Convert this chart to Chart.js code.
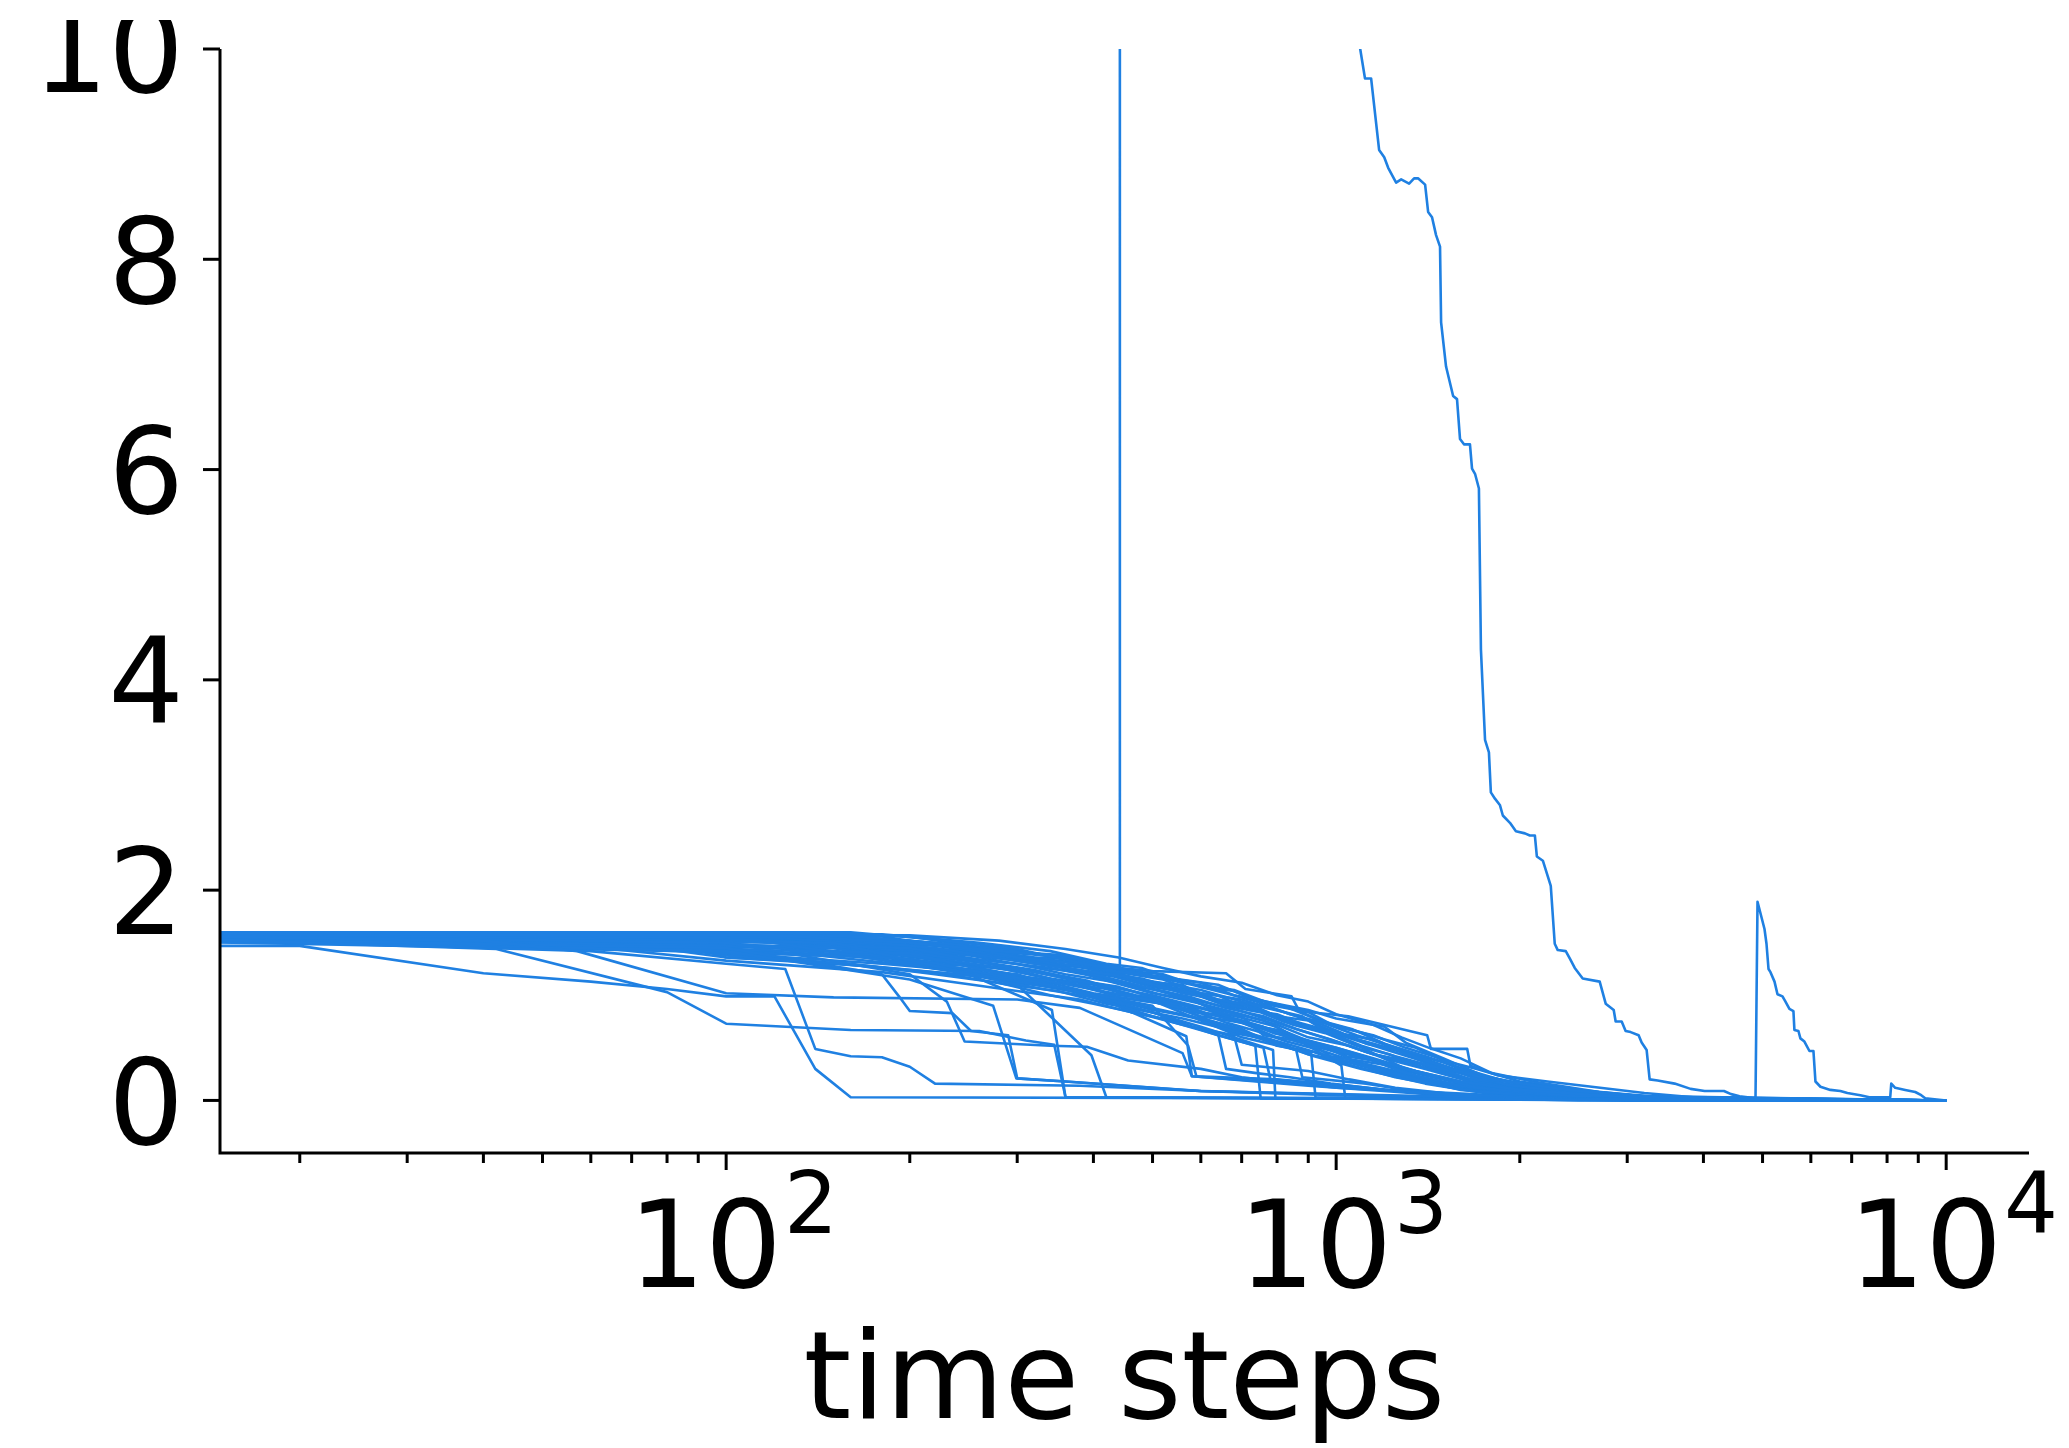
<!DOCTYPE html>
<html>
<head>
<meta charset="utf-8">
<script src="https://cdn.jsdelivr.net/npm/chart.js@4.4.1/dist/chart.umd.min.js"></script>
<style>
  html, body { margin: 0; padding: 0; background: #fff; }
  canvas { display: block; }
</style>
</head>
<body>
<canvas id="lossChart" width="2069" height="1448"></canvas>
<script>
// 학습 곡선: [time step, loss] 쌍. 한 줄 = 한 번의 실행
var runDiverged = [[10,1.57],[100,1.55],[200,1.46],[300,1.38],[400,1.28],[441,1.25],[442,40],[1095,10.0],[1115,9.72],[1141,9.72],[1176,9.04],[1199,8.97],[1217,8.87],[1254,8.73],[1278,8.76],[1317,8.72],[1342,8.77],[1362,8.77],[1399,8.71],[1415,8.45],[1436,8.40],[1458,8.23],[1480,8.12],[1486,7.40],[1514,6.98],[1555,6.70],[1578,6.67],[1596,6.29],[1620,6.24],[1657,6.24],[1670,6.01],[1689,5.96],[1714,5.82],[1727,4.29],[1754,3.43],[1780,3.31],[1793,2.93],[1821,2.87],[1855,2.81],[1876,2.71],[1927,2.64],[1971,2.56],[2039,2.54],[2077,2.52],[2117,2.52],[2133,2.32],[2182,2.28],[2223,2.13],[2248,2.04],[2282,1.49],[2308,1.43],[2379,1.42],[2415,1.35],[2461,1.26],[2536,1.16],[2704,1.13],[2766,0.92],[2851,0.86],[2872,0.75],[2938,0.75],[2982,0.66],[3039,0.65],[3132,0.62],[3168,0.55],[3228,0.48],[3265,0.20],[3365,0.19],[3588,0.16],[3811,0.11],[4018,0.09],[4322,0.09],[4440,0.06],[4585,0.04],[4869,0.02],[4906,1.89],[5037,1.63],[5075,1.49],[5114,1.25],[5152,1.22],[5231,1.13],[5290,1.01],[5391,0.99],[5452,0.94],[5534,0.87],[5618,0.85],[5639,0.67],[5725,0.66],[5768,0.59],[5856,0.56],[5968,0.47],[6059,0.47],[6105,0.18],[6221,0.13],[6458,0.10],[6707,0.09],[6887,0.07],[7232,0.05],[7482,0.03],[8096,0.03],[8128,0.16],[8250,0.12],[8568,0.10],[8898,0.08],[9101,0.05],[9239,0.02],[10000,0.0]];

// 일찍 떨어지는 실행들
var runE01 = [[10,1.47],[20,1.47],[40,1.21],[60,1.13],[80,1.06],[100,0.99],[120,0.99],[140,0.30],[160,0.03],[1000,0.02],[3000,0.0],[10000,0]];
var runE02 = [[10,1.56],[42,1.44],[80,1.03],[100,0.73],[160,0.67],[260,0.66],[310,0.57],[345,0.53],[360,0.03],[2000,0.01],[10000,0]];
var runE03 = [[10,1.56],[60,1.42],[100,1.30],[125,1.25],[140,0.49],[160,0.42],[180,0.41],[200,0.32],[220,0.16],[380,0.14],[600,0.09],[1000,0.06],[2000,0.02],[4000,0],[10000,0]];
var runE04 = [[10,1.57],[40,1.52],[57,1.42],[100,1.02],[150,0.98],[300,0.96],[380,0.88],[560,0.45],[580,0.23],[900,0.15],[1500,0.06],[2500,0.01],[10000,0]];
var runE05 = [[10,1.55],[100,1.45],[180,1.20],[192,0.99],[200,0.85],[235,0.83],[252,0.66],[290,0.62],[300,0.21],[360,0.18],[600,0.09],[1500,0.03],[3000,0],[10000,0]];
var runE06 = [[10,1.58],[100,1.50],[200,1.20],[230,0.94],[246,0.56],[340,0.52],[390,0.51],[456,0.38],[600,0.30],[700,0.22],[1000,0.12],[2000,0.03],[3500,0],[10000,0]];
var runE07 = [[10,1.54],[100,1.42],[200,1.15],[274,0.90],[299,0.21],[360,0.18],[595,0.09],[1000,0.05],[2500,0],[10000,0]];
var runE08 = [[10,1.57],[120,1.50],[250,1.20],[342,0.86],[360,0.03],[3000,0.01],[10000,0]];
var runE09 = [[10,1.60],[150,1.50],[300,1.10],[397,0.43],[420,0.03],[3000,0.01],[10000,0]];
var runE10 = [[10,1.56],[200,1.40],[400,1.00],[568,0.61],[580,0.23],[900,0.14],[1500,0.05],[3000,0],[10000,0]];
var runE11 = [[10,1.59],[200,1.35],[500,0.90],[572,0.52],[590,0.23],[800,0.20],[1200,0.10],[2500,0.01],[10000,0]];
var runE12 = [[10,1.55],[100,1.50],[300,1.20],[500,0.80],[737,0.52],[752,0.02],[10000,0]];
var runE13 = [[10,1.57],[150,1.45],[400,1.00],[600,0.70],[788,0.48],[795,0.02],[10000,0]];
var runE14 = [[10,1.52],[200,1.38],[500,0.95],[700,0.60],[910,0.45],[925,0.03],[10000,0]];
var runE15 = [[10,1.58],[200,1.45],[500,1.00],[800,0.70],[1020,0.33],[1035,0.02],[10000,0]];

// 나머지 실행들 (천천히 감소)
var runB01 = [[10,1.60],[100,1.60],[160,1.60],[220,1.53],[300,1.44],[400,1.28],[500,1.23],[660,1.21],[710,1.06],[845,0.99],[870,0.85],[1047,0.80],[1410,0.62],[1430,0.49],[1640,0.49],[1660,0.33],[1840,0.24],[2220,0.18],[3200,0.07],[4200,0.01],[10000,0]];
var runB02 = [[10,1.58],[120,1.57],[200,1.50],[280,1.42],[360,1.38],[420,1.24],[600,1.12],[680,1.00],[900,0.86],[1000,0.78],[1200,0.70],[1300,0.55],[1500,0.40],[1800,0.20],[2400,0.10],[3500,0.02],[10000,0]];
var runB03 = [[10,1.56],[140,1.55],[220,1.45],[320,1.30],[450,1.18],[560,1.02],[700,0.92],[820,0.75],[1000,0.62],[1150,0.45],[1300,0.30],[1600,0.18],[2000,0.10],[3000,0.03],[10000,0]];
var runB04 = [[10,1.54],[60,1.50],[100,1.40],[180,1.30],[260,1.22],[340,1.12],[400,1.02],[520,0.92],[640,0.80],[760,0.68],[900,0.55],[1100,0.42],[1350,0.28],[1700,0.12],[2500,0.04],[10000,0]];
var runB05 = [[10,1.59],[160,1.56],[240,1.48],[300,1.36],[380,1.30],[480,1.15],[600,1.05],[740,0.90],[880,0.80],[960,0.66],[1150,0.58],[1300,0.44],[1550,0.30],[1900,0.15],[2600,0.05],[4000,0],[10000,0]];
var runB06 = [[10,1.53],[80,1.45],[100,1.38],[140,1.32],[200,1.24],[260,1.18],[330,1.06],[420,0.96],[500,0.88],[620,0.76],[720,0.64],[850,0.52],[1000,0.40],[1250,0.25],[1600,0.10],[2200,0.03],[10000,0]];
var runB07 = [[10,1.57],[120,1.55],[200,1.47],[250,1.40],[320,1.34],[400,1.20],[470,1.10],[560,0.98],[640,0.86],[760,0.76],[860,0.60],[1000,0.50],[1200,0.36],[1450,0.22],[1900,0.08],[2800,0.02],[10000,0]];
var runB08 = [[10,1.55],[70,1.48],[100,1.36],[170,1.28],[240,1.20],[320,1.12],[380,1.04],[460,0.88],[560,0.78],[660,0.68],[780,0.56],[920,0.42],[1100,0.30],[1400,0.16],[1800,0.06],[2600,0.01],[10000,0]];
var runB09 = [[10,1.58],[140,1.57],[200,1.52],[300,1.40],[380,1.35],[440,1.22],[520,1.15],[600,1.02],[700,0.96],[820,0.84],[950,0.72],[1080,0.58],[1250,0.48],[1450,0.36],[1700,0.20],[2100,0.12],[2800,0.04],[10000,0]];
var runB10 = [[10,1.52],[60,1.46],[100,1.33],[180,1.22],[240,1.12],[300,1.04],[380,0.96],[460,0.84],[540,0.76],[640,0.62],[760,0.50],[780,0.20],[1050,0.14],[1300,0.08],[1700,0.03],[2400,0.01],[10000,0]];
var runB11 = [[10,1.56],[100,1.54],[160,1.48],[230,1.36],[300,1.26],[360,1.16],[440,1.08],[540,0.92],[620,0.86],[720,0.72],[820,0.66],[960,0.50],[1120,0.40],[1300,0.26],[1600,0.14],[2000,0.06],[3000,0.01],[10000,0]];
var runB12 = [[10,1.59],[180,1.58],[260,1.50],[340,1.42],[420,1.30],[480,1.26],[560,1.12],[680,1.05],[780,0.92],[900,0.84],[1000,0.70],[1150,0.62],[1300,0.50],[1480,0.40],[1620,0.28],[1900,0.18],[2400,0.10],[3200,0.03],[10000,0]];
var runB13 = [[10,1.55],[120,1.52],[180,1.45],[220,1.35],[300,1.24],[360,1.12],[420,1.06],[500,0.94],[580,0.84],[700,0.80],[760,0.62],[900,0.55],[980,0.42],[1200,0.34],[1400,0.20],[1800,0.10],[2500,0.02],[10000,0]];
var runB14 = [[10,1.57],[160,1.55],[220,1.48],[280,1.38],[350,1.28],[420,1.14],[500,1.02],[580,0.96],[660,0.80],[760,0.70],[860,0.56],[1000,0.46],[1100,0.34],[1300,0.24],[1600,0.12],[2200,0.04],[10000,0]];
var runB15 = [[10,1.54],[100,1.53],[150,1.46],[210,1.38],[270,1.30],[330,1.22],[390,1.14],[460,1.00],[540,0.90],[620,0.76],[700,0.68],[800,0.52],[920,0.46],[1050,0.34],[1250,0.22],[1550,0.12],[2000,0.04],[10000,0]];
var runB16 = [[10,1.60],[120,1.59],[200,1.56],[260,1.46],[320,1.40],[400,1.32],[460,1.22],[540,1.16],[640,1.10],[720,0.98],[820,0.90],[940,0.76],[1060,0.68],[1200,0.54],[1360,0.44],[1500,0.30],[1800,0.20],[2300,0.12],[3000,0.05],[4000,0],[10000,0]];
var runB17 = [[10,1.53],[90,1.44],[100,1.36],[160,1.30],[220,1.20],[280,1.12],[340,1.00],[400,0.92],[480,0.82],[560,0.72],[640,0.64],[660,0.30],[740,0.26],[840,0.22],[980,0.16],[1200,0.10],[1500,0.05],[2000,0.02],[10000,0]];
var runB18 = [[10,1.58],[140,1.56],[200,1.50],[260,1.42],[330,1.32],[400,1.26],[460,1.16],[560,1.08],[640,0.96],[740,0.88],[840,0.74],[960,0.66],[1100,0.52],[1250,0.42],[1450,0.32],[1700,0.18],[2100,0.08],[3000,0.02],[10000,0]];
var runB19 = [[10,1.56],[100,1.55],[180,1.46],[240,1.36],[300,1.30],[360,1.20],[440,1.12],[520,1.00],[600,0.92],[700,0.82],[800,0.72],[900,0.60],[1050,0.52],[1200,0.40],[1400,0.30],[1700,0.16],[2200,0.06],[3000,0.01],[10000,0]];
var runB20 = [[10,1.55],[140,1.53],[200,1.44],[260,1.34],[340,1.26],[420,1.16],[500,1.06],[580,0.98],[660,0.88],[760,0.80],[860,0.68],[980,0.58],[1120,0.46],[1300,0.36],[1500,0.26],[1800,0.14],[2400,0.05],[10000,0]];
var runB21 = [[10,1.59],[200,1.57],[280,1.52],[360,1.44],[440,1.36],[520,1.26],[600,1.18],[700,1.12],[800,1.00],[900,0.94],[1000,0.82],[1150,0.72],[1280,0.60],[1420,0.50],[1600,0.40],[1800,0.26],[2100,0.18],[2700,0.08],[3600,0.02],[10000,0]];
var runB22 = [[10,1.57],[100,1.56],[160,1.50],[220,1.42],[290,1.34],[360,1.26],[420,1.20],[500,1.10],[580,1.02],[660,0.92],[760,0.84],[880,0.72],[1000,0.64],[1150,0.54],[1350,0.42],[1600,0.28],[2000,0.16],[2600,0.06],[3500,0.01],[10000,0]];
var runB23 = [[10,1.56],[120,1.54],[190,1.44],[250,1.38],[310,1.28],[380,1.22],[450,1.10],[520,1.04],[600,0.94],[690,0.86],[780,0.76],[880,0.66],[1000,0.56],[1150,0.44],[1350,0.36],[1600,0.22],[2000,0.10],[2800,0.03],[10000,0]];
var runB24 = [[10,1.54],[110,1.52],[170,1.42],[230,1.32],[290,1.24],[350,1.14],[420,1.02],[500,0.96],[580,0.86],[660,0.74],[740,0.66],[830,0.56],[940,0.48],[1060,0.38],[1250,0.28],[1500,0.16],[1900,0.07],[2600,0.01],[10000,0]];
var runB25 = [[10,1.58],[150,1.57],[220,1.50],[290,1.44],[360,1.34],[430,1.28],[500,1.18],[580,1.10],[660,1.02],[740,0.94],[840,0.82],[950,0.74],[1080,0.62],[1220,0.52],[1400,0.42],[1620,0.30],[1900,0.18],[2400,0.09],[3200,0.02],[10000,0]];
var runB26 = [[10,1.55],[100,1.54],[150,1.48],[200,1.40],[260,1.32],[320,1.24],[380,1.14],[450,1.06],[520,0.96],[600,0.88],[680,0.78],[780,0.68],[880,0.58],[1000,0.50],[1150,0.40],[1350,0.28],[1600,0.18],[2000,0.08],[2800,0.02],[10000,0]];
var runB27 = [[10,1.57],[130,1.55],[200,1.46],[270,1.40],[340,1.30],[410,1.24],[480,1.12],[560,1.06],[640,0.94],[720,0.90],[820,0.78],[920,0.70],[1040,0.60],[1180,0.50],[1340,0.40],[1550,0.28],[1850,0.16],[2300,0.08],[3000,0.02],[10000,0]];
var runB28 = [[10,1.53],[90,1.47],[140,1.38],[190,1.30],[250,1.22],[310,1.12],[370,1.04],[440,0.96],[510,0.86],[590,0.78],[670,0.68],[760,0.58],[860,0.48],[880,0.22],[1120,0.16],[1300,0.10],[1600,0.05],[2100,0.02],[10000,0]];
var runB29 = [[10,1.58],[40,1.55],[80,1.46],[120,1.40],[160,1.38],[200,1.30],[260,1.22],[300,1.12],[360,1.06],[420,0.98],[500,0.86],[580,0.80],[680,0.64],[780,0.58],[900,0.44],[1050,0.36],[1250,0.24],[1500,0.14],[1900,0.06],[2600,0.01],[10000,0]];
var runB30 = [[10,1.60],[100,1.58],[180,1.56],[240,1.44],[280,1.42],[340,1.30],[400,1.26],[460,1.14],[560,1.10],[620,0.96],[720,0.92],[800,0.80],[900,0.76],[1000,0.64],[1150,0.58],[1300,0.46],[1500,0.36],[1700,0.24],[2100,0.14],[2800,0.05],[4000,0],[10000,0]];
var runB31 = [[10,1.56],[60,1.54],[100,1.46],[140,1.44],[180,1.36],[240,1.30],[300,1.18],[380,1.12],[440,0.98],[520,0.92],[600,0.80],[700,0.74],[800,0.60],[920,0.54],[1040,0.42],[1200,0.36],[1400,0.24],[1700,0.14],[2200,0.05],[10000,0]];
var runB32 = [[10,1.59],[120,1.58],[160,1.54],[220,1.50],[260,1.42],[320,1.36],[380,1.34],[440,1.24],[520,1.20],[600,1.08],[680,1.04],[760,0.92],[860,0.86],[960,0.74],[1080,0.66],[1200,0.58],[1350,0.50],[1500,0.38],[1700,0.30],[2000,0.18],[2500,0.10],[3300,0.03],[10000,0]];
var runB33 = [[10,1.55],[50,1.52],[90,1.42],[130,1.34],[180,1.26],[230,1.20],[290,1.10],[350,1.04],[420,0.92],[500,0.84],[580,0.70],[680,0.62],[700,0.34],[900,0.28],[1050,0.20],[1250,0.12],[1550,0.06],[2000,0.02],[10000,0]];
var runB34 = [[10,1.57],[140,1.56],[200,1.48],[250,1.46],[300,1.36],[360,1.32],[420,1.20],[480,1.16],[560,1.04],[640,1.00],[720,0.86],[800,0.82],[900,0.70],[1000,0.66],[1120,0.54],[1260,0.48],[1400,0.36],[1600,0.26],[1900,0.14],[2400,0.06],[3200,0.01],[10000,0]];
var runB35 = [[10,1.54],[80,1.53],[120,1.46],[170,1.40],[220,1.30],[280,1.26],[340,1.16],[400,1.10],[470,1.00],[540,0.94],[620,0.82],[700,0.76],[790,0.64],[880,0.58],[1000,0.46],[1130,0.40],[1300,0.28],[1550,0.18],[1900,0.08],[2600,0.02],[10000,0]];
var runB36 = [[10,1.58],[100,1.57],[140,1.52],[190,1.48],[240,1.40],[300,1.34],[360,1.26],[430,1.18],[500,1.08],[580,1.02],[660,0.90],[750,0.84],[850,0.72],[960,0.64],[1080,0.52],[1220,0.44],[1380,0.32],[1600,0.22],[1950,0.12],[2500,0.04],[10000,0]];

var allRuns = [runE01,runE02,runE03,runE04,runE05,runE06,runE07,runE08,runE09,runE10,runE11,runE12,runE13,runE14,runE15,
               runB01,runB02,runB03,runB04,runB05,runB06,runB07,runB08,runB09,runB10,runB11,runB12,runB13,runB14,
               runB15,runB16,runB17,runB18,runB19,runB20,runB21,runB22,runB23,runB24,runB25,runB26,runB27,runB28,
               runB29,runB30,runB31,runB32,runB33,runB34,runB35,runB36,
               runDiverged];

// 축 눈금
var yTickValues = [0, 2, 4, 6, 8, 10];
var xMajorTicks = [100, 1000, 10000];
var xMinorTicks = [20,30,40,50,60,70,80,90,200,300,400,500,600,700,800,900,2000,3000,4000,5000,6000,7000,8000,9000];
var xTickExponents = ['2', '3', '4'];
var xTitle = 'time steps';

var lineColor = '#1f80e2';

var datasets = allRuns.map(function(run) {
    return {
        data: run.map(function(p) { return { x: p[0], y: p[1] }; }),
        borderColor: lineColor,
        borderWidth: 2.6,
        borderJoinStyle: 'round',
        pointRadius: 0,
        fill: false,
        tension: 0
    };
});

// matplotlib 스타일 축 (왼쪽/아래 spine만)
var mplAxes = {
    id: 'mplAxes',
    afterDraw: function(chart) {
        var ctx = chart.ctx;
        var area = chart.chartArea;
        var xs = chart.scales.x;
        var ys = chart.scales.y;
        var font = '"DejaVu Sans", sans-serif';

        ctx.save();
        ctx.strokeStyle = '#000';
        ctx.fillStyle = '#000';
        ctx.lineWidth = 3;

        // spine
        ctx.beginPath();
        ctx.moveTo(area.left, area.top);
        ctx.lineTo(area.left, area.bottom);
        ctx.lineTo(area.right, area.bottom);
        ctx.stroke();

        // y 눈금 + 라벨
        var ySize = 119;
        ctx.font = ySize + 'px ' + font;
        ctx.textAlign = 'right';
        ctx.textBaseline = 'alphabetic';
        yTickValues.forEach(function(v) {
            var py = ys.getPixelForValue(v);
            ctx.beginPath();
            ctx.moveTo(area.left - 17, py);
            ctx.lineTo(area.left, py);
            ctx.stroke();
            ctx.fillText(String(v), area.left - 36, py + ySize * 0.3645);
        });

        // x 보조 눈금
        xMinorTicks.forEach(function(v) {
            var px = xs.getPixelForValue(v);
            ctx.beginPath();
            ctx.moveTo(px, area.bottom);
            ctx.lineTo(px, area.bottom + 10);
            ctx.stroke();
        });

        // x 주 눈금 + 10^n 라벨
        var xSize = 121, supSize = Math.round(xSize * 0.7);
        xMajorTicks.forEach(function(v, i) {
            var px = xs.getPixelForValue(v);
            ctx.beginPath();
            ctx.moveTo(px, area.bottom);
            ctx.lineTo(px, area.bottom + 17);
            ctx.stroke();

            ctx.textAlign = 'left';
            ctx.font = xSize + 'px ' + font;
            var wBase = ctx.measureText('10').width;
            ctx.font = supSize + 'px ' + font;
            var wSup = ctx.measureText(xTickExponents[i]).width;
            var x0 = px - (wBase + wSup) / 2 + 6;
            var base = 1287;
            ctx.font = xSize + 'px ' + font;
            ctx.fillText('10', x0, base);
            ctx.font = supSize + 'px ' + font;
            ctx.fillText(xTickExponents[i], x0 + wBase + 2, base - xSize * 0.45);
        });

        // x축 제목
        ctx.font = '122px ' + font;
        ctx.textAlign = 'center';
        ctx.fillText(xTitle, (area.left + area.right) / 2, 1418);

        // 위쪽 잘린 부분
        ctx.fillStyle = '#fff';
        ctx.fillRect(0, 0, chart.width, 20);
        ctx.restore();
    }
};

var lossChart = new Chart(document.getElementById('lossChart').getContext('2d'), {
    type: 'line',
    data: { datasets: datasets },
    options: {
        responsive: false,
        animation: false,
        devicePixelRatio: 1,
        layout: { padding: { left: 220, right: 40, top: 49, bottom: 295 } },
        plugins: { legend: { display: false }, tooltip: { enabled: false } },
        scales: {
            x: { type: 'logarithmic', min: 14.8, max: 13670, display: false },
            y: { type: 'linear', min: -0.5, max: 10, display: false }
        }
    },
    plugins: [mplAxes]
});
</script>
</body>
</html>
